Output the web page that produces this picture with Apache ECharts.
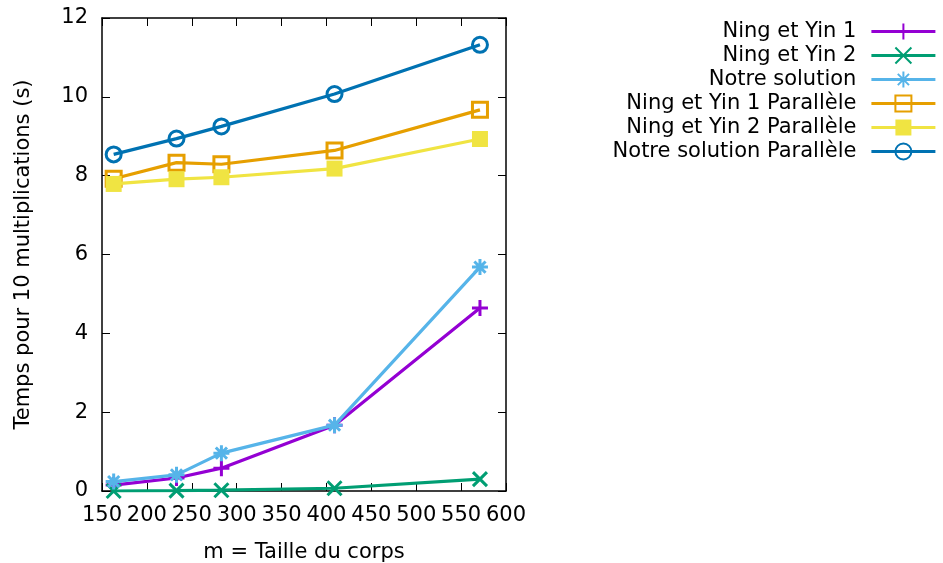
<!DOCTYPE html>
<html>
<head>
<meta charset="utf-8">
<script src="https://cdn.jsdelivr.net/npm/echarts@6/dist/echarts.min.js"></script>
<style>html,body{margin:0;padding:0;background:#fff;}#chart{width:943px;height:563px;}</style>
</head>
<body>
<div id="chart"></div>
<script>
const sizes = [163, 233, 283, 409, 571];
const ningYin1 = [0.15, 0.33, 0.58, 1.67, 4.64];
const ningYin2 = [0.00, 0.01, 0.02, 0.07, 0.30];
const notreSolution = [0.24, 0.41, 0.96, 1.67, 5.68];
const ningYin1Par = [7.92, 8.33, 8.29, 8.64, 9.67];
const ningYin2Par = [7.79, 7.91, 7.96, 8.18, 8.93];
const notreSolutionPar = [8.54, 8.94, 9.25, 10.07, 11.32];
const seriesNames = ['Ning et Yin 1', 'Ning et Yin 2', 'Notre solution', 'Ning et Yin 1 Parallèle', 'Ning et Yin 2 Parallèle', 'Notre solution Parallèle'];
const xLabel = 'm = Taille du corps';
const yLabel = 'Temps pour 10 multiplications (s)';

const FONT = 'DejaVu Sans';
const FS = 21;
const colors = ['#9400d3', '#009e73', '#56b4e9', '#e69f00', '#f0e442', '#0072b2'];
const symbols = [
  'path://M5,0L5,10M0,5L10,5',
  'path://M0,0L10,10M10,0L0,10',
  'path://M5,0L5,10M0,5L10,5M1.5,1.5L8.5,8.5M8.5,1.5L1.5,8.5',
  'rect',
  'rect',
  'circle'
];
const hollow = [true, true, true, true, false, true];
const symSizes = [16, 14, 16, 15, 16, 15];
const allData = [ningYin1, ningYin2, notreSolution, ningYin1Par, ningYin2Par, notreSolutionPar];

function pairs(arr) { return sizes.map((x, i) => [x, arr[i]]); }

const series = allData.map((arr, i) => ({
  name: seriesNames[i],
  type: 'line',
  data: pairs(arr),
  symbol: symbols[i],
  symbolSize: symSizes[i],
  showAllSymbol: true,
  lineStyle: { color: colors[i], width: 3.2 },
  itemStyle: hollow[i]
    ? { color: 'rgba(255,255,255,0)', borderColor: colors[i], borderWidth: 3 }
    : { color: colors[i], borderWidth: 0 },
  emphasis: { disabled: true },
  z: 2 + i
}));

const axisCommon = {
  axisLine: { show: true, onZero: false, lineStyle: { color: '#000', width: 1.5 } },
  axisTick: { show: true, inside: true, length: 8, lineStyle: { color: '#000', width: 1 } },
  splitLine: { show: false }
};

const chart = echarts.init(document.getElementById('chart'), null, { renderer: 'canvas' });
chart.setOption({
  animation: false,
  backgroundColor: '#fff',
  textStyle: { fontFamily: FONT },
  grid: { left: 102, top: 18, right: 437, bottom: 72, containLabel: false, outerBoundsMode: 'none' },
  legend: {
    orient: 'vertical',
    right: 6,
    top: 21,
    padding: 0,
    align: 'right',
    itemWidth: 64,
    itemHeight: 20,
    itemGap: 3,
    lineStyle: { width: 3.2 },
    textStyle: { fontFamily: FONT, fontSize: FS, color: '#000', padding: [0, 10, 0, 0] },
    data: seriesNames
  },
  xAxis: [
    Object.assign({
      type: 'value', min: 150, max: 600, interval: 50, position: 'bottom',
      name: xLabel, nameLocation: 'middle', nameGap: 51,
      nameTextStyle: { fontFamily: FONT, fontSize: FS, color: '#000' },
      axisLabel: { fontFamily: FONT, fontSize: FS, color: '#000', margin: 14 }
    }, axisCommon),
    Object.assign({
      type: 'value', min: 150, max: 600, interval: 50, position: 'top',
      axisLabel: { show: false }
    }, axisCommon)
  ],
  yAxis: [
    Object.assign({
      type: 'value', min: 0, max: 12, interval: 2, position: 'left',
      name: yLabel, nameLocation: 'middle', nameGap: 68,
      nameTextStyle: { fontFamily: FONT, fontSize: FS, color: '#000' },
      axisLabel: { fontFamily: FONT, fontSize: FS, color: '#000', margin: 14 }
    }, axisCommon),
    Object.assign({
      type: 'value', min: 0, max: 12, interval: 2, position: 'right',
      axisLabel: { show: false }
    }, axisCommon)
  ],
  series: series
});
</script>
</body>
</html>
